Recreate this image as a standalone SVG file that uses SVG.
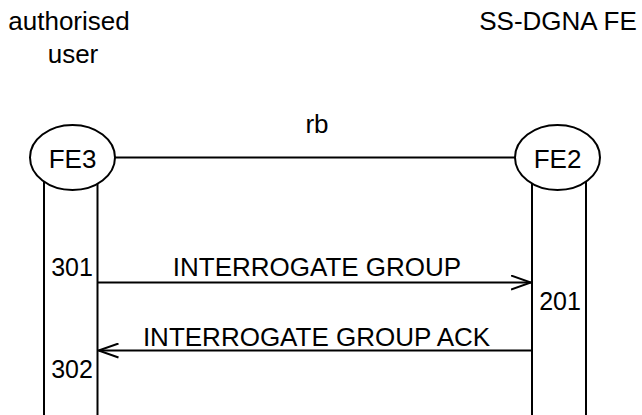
<svg xmlns="http://www.w3.org/2000/svg" width="642" height="415" viewBox="0 0 642 415">
<defs>
<style>
text{font-family:"Liberation Sans",Arial,sans-serif;font-size:26px;fill:#000}
text.num{font-size:25px}
.ln{stroke:#000;stroke-width:2;fill:none}
.el{stroke:#000;stroke-width:2;fill:#fff}
</style>
<marker id="ah" markerWidth="22" markerHeight="16" refX="20" refY="8" orient="auto" markerUnits="userSpaceOnUse">
<path d="M0,1 L20,8 L0,15" fill="none" stroke="#000" stroke-width="2"/>
</marker>
</defs>
<rect width="642" height="415" fill="#fff"/>
<text x="69" y="30" text-anchor="middle">authorised</text>
<text x="73" y="63" text-anchor="middle">user</text>
<text x="558" y="30" text-anchor="middle">SS-DGNA FE</text>
<g id="connectors">
<line class="ln" x1="115" y1="157.5" x2="515" y2="157.5"/>
<text x="317" y="133" text-anchor="middle">rb</text>
<line class="ln" x1="97.5" y1="282.5" x2="531" y2="282.5" marker-end="url(#ah)"/>
<text x="317" y="276" text-anchor="middle">INTERROGATE GROUP</text>
<line class="ln" x1="531" y1="350.5" x2="98.5" y2="350.5" marker-end="url(#ah)"/>
<text x="316.5" y="346" text-anchor="middle">INTERROGATE GROUP ACK</text>
</g>
<g id="FE3">
<line class="ln" x1="44" y1="160" x2="44" y2="415"/>
<line class="ln" x1="97.5" y1="160" x2="97.5" y2="415"/>
<ellipse class="el" cx="72.5" cy="157.5" rx="42.5" ry="32.5"/>
<text x="72.5" y="168" text-anchor="middle">FE3</text>
<text class="num" x="72" y="276" text-anchor="middle">301</text>
<text class="num" x="72" y="378" text-anchor="middle">302</text>
</g>
<g id="FE2">
<line class="ln" x1="532" y1="160" x2="532" y2="415"/>
<line class="ln" x1="586" y1="160" x2="586" y2="415"/>
<ellipse class="el" cx="557.5" cy="157.5" rx="42.5" ry="32.5"/>
<text x="557.5" y="168" text-anchor="middle">FE2</text>
<text class="num" x="560" y="310" text-anchor="middle">201</text>
</g>
</svg>
